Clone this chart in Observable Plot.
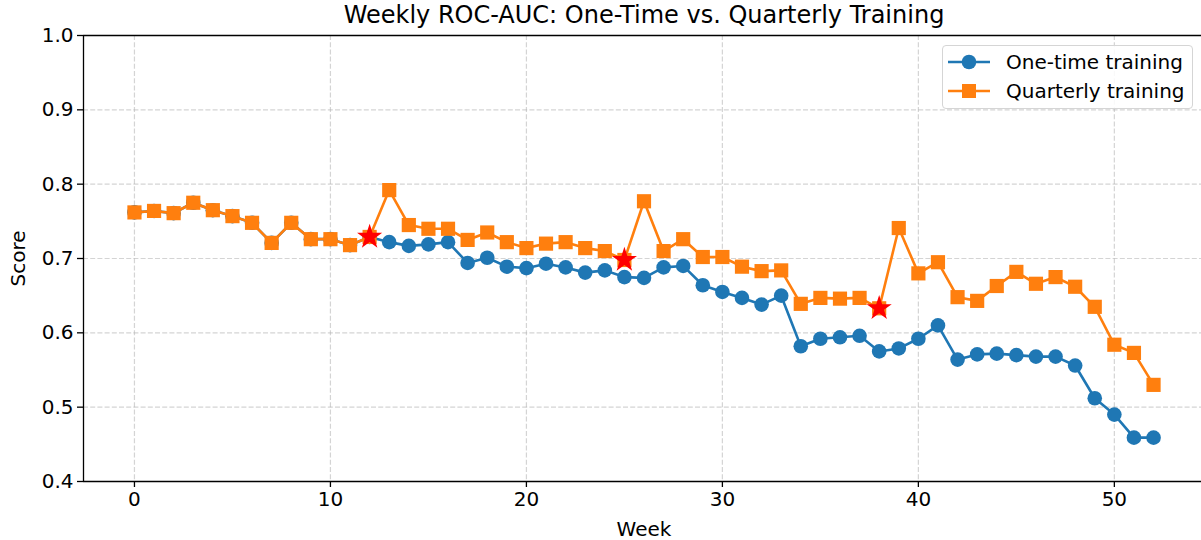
<!DOCTYPE html>
<html>
<head>
<meta charset="utf-8">
<script src="https://cdn.jsdelivr.net/npm/d3@7"></script>
<script src="https://cdn.jsdelivr.net/npm/@observablehq/plot@0.6"></script>
<style>
  html, body { margin: 0; padding: 0; background: #fff; }
  #wrap { position: relative; width: 1201px; height: 540px; overflow: hidden; font-family: "DejaVu Sans", sans-serif; }
  #legend { position: absolute; left: 942px; top: 45px; width: 251px; height: 64px; border: 1px solid #d5d5d5; border-radius: 4px; background: rgba(255,255,255,0.85); box-sizing: border-box; }
  .row { position: absolute; left: 5px; height: 28px; display: flex; align-items: center; }
  .row span { font-size: 20px; color: #000; margin-left: 16px; white-space: nowrap; line-height: 28px; }
  .row svg { display: block; }
</style>
</head>
<body>
<div id="wrap"><div id="legend"></div></div>
<script>
const weeks = [0,1,2,3,4,5,6,7,8,9,10,11,12,13,14,15,16,17,18,19,20,21,22,23,24,25,26,27,28,29,30,31,32,33,34,35,36,37,38,39,40,41,42,43,44,45,46,47,48,49,50,51,52];

const oneTime = [0.762,0.764,0.761,0.775,0.765,0.757,0.748,0.721,0.748,0.726,0.726,0.718,0.729,
  0.722,0.717,0.719,0.722,0.694,0.701,0.689,0.687,0.693,0.688,0.681,0.684,0.675,
  0.674,0.688,0.690,0.664,0.655,0.647,0.638,0.650,0.582,0.592,0.594,0.596,0.575,
  0.579,0.592,0.610,0.564,0.571,0.572,0.570,0.568,0.568,0.556,0.512,0.490,0.459,0.459];

const quarterly = [0.762,0.764,0.761,0.775,0.765,0.757,0.748,0.721,0.748,0.726,0.726,0.718,0.729,
  0.792,0.745,0.740,0.740,0.725,0.735,0.722,0.714,0.720,0.722,0.714,0.710,0.698,
  0.777,0.710,0.726,0.702,0.702,0.689,0.683,0.684,0.639,0.647,0.646,0.647,0.633,
  0.741,0.680,0.695,0.648,0.643,0.663,0.682,0.666,0.675,0.662,0.635,0.584,0.573,0.530];

const retrainWeeks = [12, 25, 38];

const seriesNames = ["One-time training", "Quarterly training"];
const seriesColors = ["#1f77b4", "#ff7f0e"];
const xTicks = [0, 10, 20, 30, 40, 50];
const yTicks = [0.4, 0.5, 0.6, 0.7, 0.8, 0.9, 1.0];
const xDomain = [-2.6, 54.6];
const yDomain = [0.4, 1.0];
const titleText = "Weekly ROC-AUC: One-Time vs. Quarterly Training";
const xLabel = "Week";
const yLabel = "Score";

const blue = weeks.map((w, i) => ({week: w, score: oneTime[i]}));
const orange = weeks.map((w, i) => ({week: w, score: quarterly[i]}));
const stars = retrainWeeks.map(w => ({week: w, score: quarterly[weeks.indexOf(w)]}));

const gridStyle = {stroke: "#b0b0b0", strokeOpacity: 0.55, strokeWidth: 1.2, strokeDasharray: "5,2.2"};

const chart = Plot.plot({
  width: 1201,
  height: 540,
  marginLeft: 83,
  marginRight: -3,
  marginTop: 35,
  marginBottom: 59,
  style: {fontFamily: "DejaVu Sans, sans-serif", fontSize: "20px", color: "#000", background: "transparent", overflow: "visible"},
  x: {domain: xDomain},
  y: {domain: yDomain},
  marks: [
    Plot.gridX(xTicks, gridStyle),
    Plot.gridY(yTicks, gridStyle),
    Plot.ruleY([yDomain[0], yDomain[1]], {stroke: "#000", strokeWidth: 1.3}),
    Plot.ruleX([xDomain[0]], {stroke: "#000", strokeWidth: 1.3}),
    Plot.axisX({ticks: xTicks, tickSize: 6, tickPadding: 4, label: null, tickFormat: d3.format("d"), stroke: "#000", strokeWidth: 1.3, fontSize: 20, fill: "#000"}),
    Plot.axisY({ticks: yTicks, tickSize: 6, tickPadding: 4, label: null, tickFormat: d3.format(".1f"), stroke: "#000", strokeWidth: 1.3, fontSize: 20, fill: "#000"}),
    Plot.line(blue, {x: "week", y: "score", stroke: seriesColors[0], strokeWidth: 2.6}),
    Plot.dot(blue, {x: "week", y: "score", fill: seriesColors[0], r: 7.3, stroke: "none"}),
    Plot.line(orange, {x: "week", y: "score", stroke: seriesColors[1], strokeWidth: 2.6}),
    Plot.dot(orange, {x: "week", y: "score", fill: seriesColors[1], symbol: "square", r: 8, stroke: "none"}),
    Plot.dot(stars, {x: "week", y: "score", fill: "#ff0000", symbol: "star", r: 7.9, stroke: "none"}),
    Plot.text([titleText], {frameAnchor: "top", lineAnchor: "middle", dy: -20, fontSize: 24, fill: "#000"}),
    Plot.text([xLabel], {frameAnchor: "bottom", lineAnchor: "middle", dy: 48, fontSize: 20, fill: "#000"}),
    Plot.text([yLabel], {frameAnchor: "left", lineAnchor: "middle", textAnchor: "middle", dx: -65, rotate: -90, fontSize: 20, fill: "#000"})
  ]
});
document.getElementById("wrap").prepend(chart);

// legend
const legend = document.getElementById("legend");
const shapes = ["circle", "square"];
seriesNames.forEach((name, i) => {
  const row = document.createElement("div");
  row.className = "row";
  row.style.top = (i === 0 ? 2 : 31) + "px";
  const c = seriesColors[i];
  const marker = shapes[i] === "circle"
    ? `<circle cx="21" cy="14" r="7.3" fill="${c}"/>`
    : `<rect x="14" y="7" width="14" height="14" fill="${c}"/>`;
  row.innerHTML = `<svg width="42" height="28"><line x1="0" x2="42" y1="14" y2="14" stroke="${c}" stroke-width="2.6"/>${marker}</svg><span>${name}</span>`;
  legend.appendChild(row);
});
</script>
</body>
</html>
